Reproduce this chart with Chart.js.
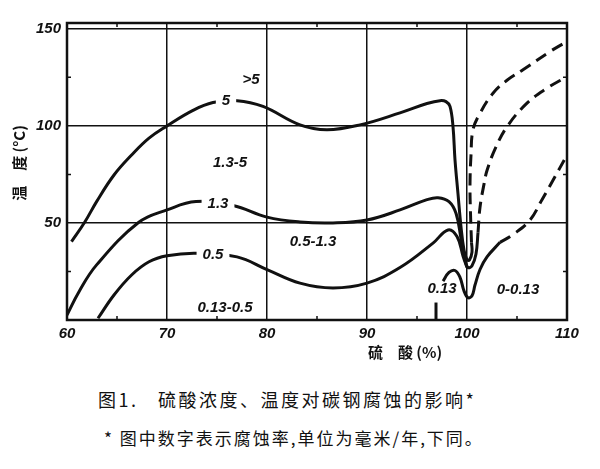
<!DOCTYPE html>
<html>
<head>
<meta charset="utf-8">
<script src="https://cdn.jsdelivr.net/npm/chart.js@4"></script>
<style>
  body { margin: 0; background: #fff; width: 600px; height: 469px; overflow: hidden; position: relative; }
  #graf { display: block; }
  .pie { position: absolute; font-family: "Noto Sans CJK SC", sans-serif; color: #111; white-space: pre; }
  #pie1 { left: 98px; top: 386px; font-size: 18px; letter-spacing: 2.5px; }
  #pie2 { left: 104px; top: 425px; font-size: 17px; letter-spacing: 2px; }
</style>
</head>
<body>
<canvas id="graf" width="600" height="362"></canvas>
<div class="pie" id="pie1">图1.   硫酸浓度、温度对碳钢腐蚀的影响*</div>
<div class="pie" id="pie2">* 图中数字表示腐蚀率,单位为毫米/年,下同。</div>
<script>
// curva 5 mm/año (sólida) y su continuación discontinua
const curva5X = [60.45, 61.75, 62.96, 64.7, 66.46, 68.2, 70, 72.6, 74.6, 77, 79.6, 83.3, 86, 89.3, 93.3, 96, 97.3, 97.9, 98.3, 98.6, 98.8, 99.1, 99.4, 99.7, 100.0, 100.25, 100.5, 100.45]
const curva5Y = [40.4, 50.2, 61, 74.7, 85, 93.7, 100, 108, 112, 113, 110, 100.5, 98, 100.5, 106.7, 111.5, 113, 112.5, 110, 99.6, 82.5, 65, 48, 36, 31, 31, 35, 40]
const guion5X = [100.45, 100.35, 100.3, 100.4, 100.6, 101.3, 102.6, 104, 105.6, 108.3, 110]
const guion5Y = [40, 55, 70, 85, 98, 106.5, 116.8, 123.5, 128.9, 138.3, 143.5]

// curva 1.3
const curva13X = [60, 61.2, 62.96, 67.15, 70, 72.9, 76.6, 80, 83.3, 86.6, 90, 93.3, 96, 97.1, 98.2, 98.9, 99.4, 99.8, 100.1, 100.5, 100.9, 101.1]
const curva13Y = [2.6, 14.6, 28.4, 50.2, 56.7, 61, 59, 53, 50.5, 50, 51.5, 56.7, 62, 63, 61, 55, 42, 31, 27, 28, 34, 45]
const guion13X = [101.1, 101.3, 101.7, 102, 102.8, 104, 106, 108, 110]
const guion13Y = [45, 58, 70, 77, 88, 99.6, 111.7, 119.4, 125.4]

// curva 0.5
const curva05X = [63.1, 64.7, 66.46, 68.2, 70, 72.9, 77, 80, 83.3, 86.6, 90, 93.3, 96.6, 98.1, 99, 99.6, 100]
const curva05Y = [0.9, 12.9, 23.2, 30, 33.1, 34.4, 32.5, 26, 19, 16.5, 19, 27, 39.6, 46.4, 43, 33, 27]

// curva 0.13
const curva013X = [97.6, 98.2, 98.8, 99.3, 99.7, 100.1, 100.5, 100.8, 101.3, 102, 103.3]
const curva013Y = [20, 24.5, 25.5, 22, 15, 11.5, 12.5, 18, 26, 32.5, 40]
const guion013X = [103.3, 104.6, 106.3, 107.5, 108.6, 110]
const guion013Y = [40, 44, 51.5, 62, 72, 85]
const rayaX = [96.9, 96.9]
const rayaY = [0, 9]

// ejes
const ticksY = [0, 50, 100, 150]
const menoresY = [25, 75, 125]
const menoresX = [65, 75, 85, 95, 105]

// rótulos de las zonas
const rotuloTexto = ['>5', '5', '1.3-5', '1.3', '0.5-1.3', '0.5', '0.13-0.5', '0.13', '0-0.13']
const rotuloX = [78.4, 75.9, 76.3, 75.1, 84.6, 74.6, 75.8, 97.5, 105.1]
const rotuloY = [123.5, 113, 81, 60, 40, 33.5, 6.5, 16, 15.5]
const rotuloTapa = [false, true, false, true, false, true, false, false, false]

const juntar = (xs, ys) => xs.map((x, i) => ({ x: x, y: ys[i] }))

const serie = (xs, ys, discontinua) => ({
    data: juntar(xs, ys),
    showLine: true,
    borderColor: '#111',
    borderWidth: 3,
    borderDash: discontinua ? [12, 7] : [],
    pointRadius: 0,
    tension: 0.4,
    fill: false
})

const dibujoExtra = {
    id: 'dibujoExtra',
    afterDatasetsDraw(chart) {
        const ctx = chart.ctx
        const area = chart.chartArea
        const ejeX = chart.scales.x
        const ejeY = chart.scales.y
        ctx.save()
        // marco
        ctx.strokeStyle = '#111'
        ctx.lineWidth = 2.5
        ctx.strokeRect(area.left, area.top, area.right - area.left, area.bottom - area.top)
        // marcas menores
        ctx.lineWidth = 1.5
        menoresY.forEach(v => {
            const py = ejeY.getPixelForValue(v)
            ctx.beginPath()
            ctx.moveTo(area.left, py); ctx.lineTo(area.left + 4, py)
            ctx.moveTo(area.right, py); ctx.lineTo(area.right - 4, py)
            ctx.stroke()
        })
        menoresX.forEach(v => {
            const px = ejeX.getPixelForValue(v)
            ctx.beginPath()
            ctx.moveTo(px, area.bottom); ctx.lineTo(px, area.bottom - 4)
            ctx.moveTo(px, area.top); ctx.lineTo(px, area.top + 4)
            ctx.stroke()
        })
        // rótulos
        ctx.font = 'italic bold 15px "Liberation Sans", sans-serif'
        ctx.textAlign = 'center'
        ctx.textBaseline = 'middle'
        rotuloTexto.forEach((t, i) => {
            const px = ejeX.getPixelForValue(rotuloX[i])
            const py = ejeY.getPixelForValue(rotuloY[i])
            if (rotuloTapa[i]) {
                const w = ctx.measureText(t).width
                ctx.fillStyle = '#fff'
                ctx.fillRect(px - w / 2 - 6, py - 9, w + 12, 18)
            }
            ctx.fillStyle = '#111'
            ctx.fillText(t, px, py)
        })
        // títulos de ejes
        ctx.font = 'bold 15px "Noto Sans CJK SC", sans-serif'
        ctx.fillText('硫　酸 (%)', 405, 352)
        ctx.translate(19, 163)
        ctx.rotate(-Math.PI / 2)
        ctx.fillText('温　度 (°C)', 0, 0)
        ctx.restore()
    }
}

const ctx = document.getElementById('graf').getContext('2d')
const grafico = new Chart(ctx, {
    type: 'scatter',
    data: {
        datasets: [
            serie(curva5X, curva5Y, false),
            serie(guion5X, guion5Y, true),
            serie(curva13X, curva13Y, false),
            serie(guion13X, guion13Y, true),
            serie(curva05X, curva05Y, false),
            serie(curva013X, curva013Y, false),
            serie(guion013X, guion013Y, true),
            serie(rayaX, rayaY, false)
        ]
    },
    options: {
        responsive: false,
        animation: false,
        layout: { padding: { top: 23, right: 33, left: 0, bottom: 0 } },
        plugins: { legend: { display: false }, tooltip: { enabled: false } },
        scales: {
            x: {
                type: 'linear',
                min: 60,
                max: 110,
                afterFit: s => { s.height = 42 },
                ticks: {
                    stepSize: 10,
                    color: '#111',
                    padding: 5,
                    font: { family: 'Liberation Sans', size: 15, style: 'italic', weight: 'bold' }
                },
                grid: { color: '#111', lineWidth: 1.5, drawTicks: false },
                border: { display: false }
            },
            y: {
                type: 'linear',
                min: 0,
                max: 153,
                afterFit: s => { s.width = 67 },
                afterBuildTicks: s => { s.ticks = ticksY.map(v => ({ value: v })) },
                ticks: {
                    color: '#111',
                    padding: 6,
                    callback: v => v === 0 ? '' : v,
                    font: { family: 'Liberation Sans', size: 15, style: 'italic', weight: 'bold' }
                },
                grid: { color: '#111', lineWidth: 1.5, drawTicks: false },
                border: { display: false }
            }
        }
    },
    plugins: [dibujoExtra]
})
</script>
</body>
</html>
